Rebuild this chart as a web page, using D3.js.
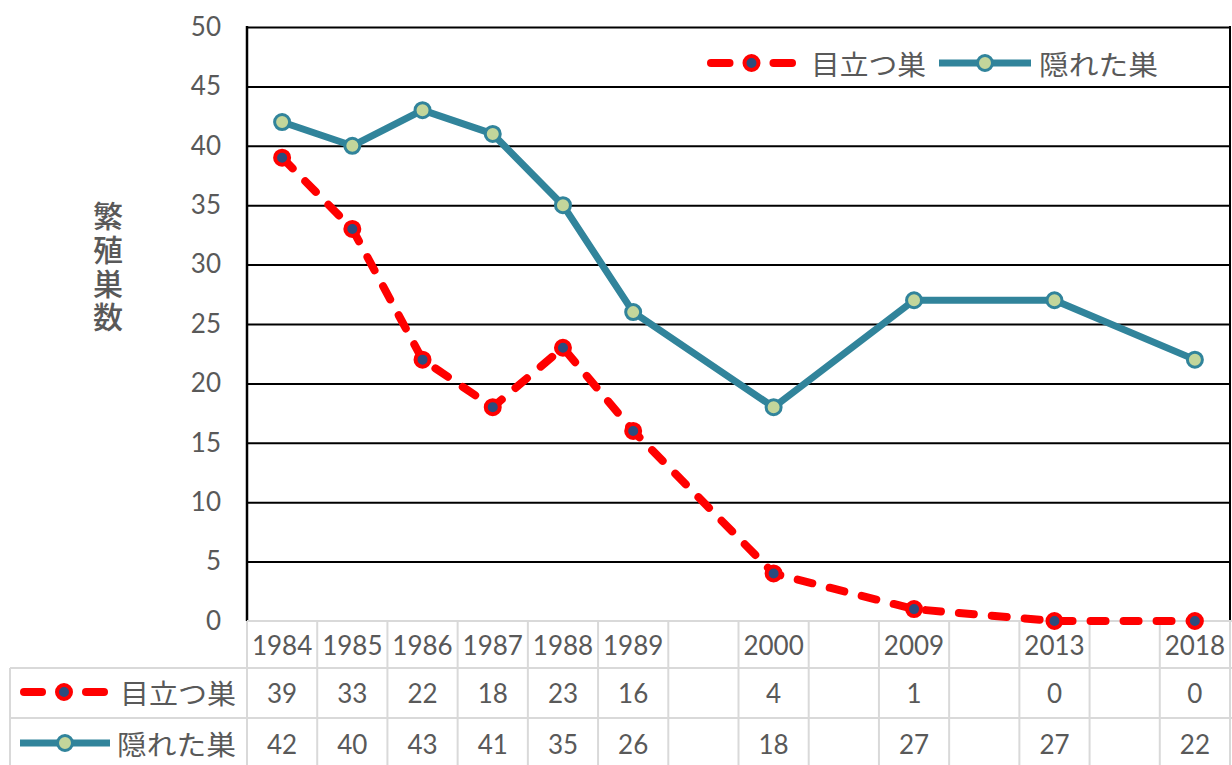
<!DOCTYPE html>
<html>
<head>
<meta charset="utf-8">
<script src="https://cdn.jsdelivr.net/npm/d3@7"></script>
<style>
  body { margin: 0; background: #fff; }
  svg { display: block; }
</style>
</head>
<body>
<svg id="chart" width="1232" height="765"></svg>
<script>
// data
const years = ["1984", "1985", "1986", "1987", "1988", "1989", "", "2000", "", "2009", "", "2013", "", "2018"];
const medatsu = [39, 33, 22, 18, 23, 16, null, 4, null, 1, null, 0, null, 0];
const kakureta = [42, 40, 43, 41, 35, 26, null, 18, null, 27, null, 27, null, 22];
const seriesNames = ["目立つ巣", "隠れた巣"];
const yTicks = [0, 5, 10, 15, 20, 25, 30, 35, 40, 45, 50];
const yTitle = "繁殖巣数";

const gray = "#595959";
const red = "#FF0000";
const teal = "#31849B";
const numFont = "Lato, 'Open Sans', sans-serif";
const jpFont = "'Noto Sans CJK JP', sans-serif";

const plotL = 247, plotR = 1230, plotT = 27, plotB = 621;
const svg = d3.select("#chart");

const x = d3.scaleBand().domain(d3.range(years.length)).range([plotL, plotR]).padding(0);
const cx = i => x(i) + x.bandwidth() / 2;
const y = d3.scaleLinear().domain([0, 50]).range([plotB, plotT]);

// gridlines + tick labels
const yAxis = svg.append("g")
  .attr("transform", `translate(${plotL},0)`)
  .call(d3.axisLeft(y).tickValues(yTicks).tickSize(-(plotR - plotL)).tickPadding(26));
yAxis.select(".domain").remove();
yAxis.selectAll(".tick line")
  .attr("stroke", d => d === 0 ? "none" : "#000")
  .attr("stroke-width", 2);
yAxis.selectAll(".tick text")
  .attr("fill", gray)
  .style("font-family", numFont)
  .style("font-size", "26px");

// plot borders
svg.append("line").attr("x1", plotL).attr("x2", plotL).attr("y1", plotT - 1).attr("y2", plotB)
  .attr("stroke", "#000").attr("stroke-width", 2.5);
svg.append("line").attr("x1", plotR).attr("x2", plotR).attr("y1", plotT - 1).attr("y2", plotB)
  .attr("stroke", "#000").attr("stroke-width", 2);

// y title, vertical
svg.append("text")
  .attr("x", 108)
  .attr("y", 201)
  .attr("writing-mode", "vertical-rl")
  .attr("fill", gray)
  .style("font-family", jpFont)
  .style("font-size", "30px")
  .style("font-weight", 500)
  .style("letter-spacing", "3.7px")
  .text(yTitle);

// data table
const row1 = 668, row2 = 718, tableBottom = 765;
const tg = svg.append("g").attr("stroke", "#D9D9D9").attr("stroke-width", 2);
tg.append("line").attr("x1", plotL).attr("x2", 1232).attr("y1", plotB).attr("y2", plotB);
tg.append("line").attr("x1", 10).attr("x2", 1232).attr("y1", row1).attr("y2", row1);
tg.append("line").attr("x1", 10).attr("x2", 1232).attr("y1", row2).attr("y2", row2);
tg.append("line").attr("x1", 10).attr("x2", 10).attr("y1", row1).attr("y2", tableBottom);
tg.selectAll(".col")
  .data(d3.range(years.length + 1))
  .join("line")
  .attr("x1", i => i < years.length ? x(i) : plotR)
  .attr("x2", i => i < years.length ? x(i) : plotR)
  .attr("y1", plotB).attr("y2", tableBottom);

const cellText = (sel, yy) => sel
  .attr("y", yy)
  .attr("text-anchor", "middle")
  .attr("dominant-baseline", "central")
  .attr("fill", gray)
  .style("font-family", numFont)
  .style("font-size", "26px");

svg.append("g").selectAll("text").data(years).join("text")
  .attr("x", (d, i) => cx(i)).call(cellText, 645).text(d => d);
svg.append("g").selectAll("text").data(medatsu).join("text")
  .attr("x", (d, i) => cx(i)).call(cellText, 693).text(d => d === null ? "" : d);
svg.append("g").selectAll("text").data(kakureta).join("text")
  .attr("x", (d, i) => cx(i)).call(cellText, 744).text(d => d === null ? "" : d);

// symbols
function redSymbol(g, x0, x1, yy) {
  const mid = (x0 + x1) / 2;
  g.append("line").attr("x1", x0 + 4).attr("x2", mid - 22).attr("y1", yy).attr("y2", yy)
    .attr("stroke", red).attr("stroke-width", 8).attr("stroke-linecap", "round");
  g.append("line").attr("x1", mid + 22).attr("x2", x1 - 4).attr("y1", yy).attr("y2", yy)
    .attr("stroke", red).attr("stroke-width", 8).attr("stroke-linecap", "round");
  g.append("circle").attr("cx", mid).attr("cy", yy).attr("r", 7)
    .attr("fill", "#2B4C7E").attr("stroke", red).attr("stroke-width", 4);
}
function tealSymbol(g, x0, x1, yy) {
  const mid = (x0 + x1) / 2;
  g.append("line").attr("x1", x0).attr("x2", x1).attr("y1", yy).attr("y2", yy)
    .attr("stroke", teal).attr("stroke-width", 7);
  g.append("circle").attr("cx", mid).attr("cy", yy).attr("r", 7.5)
    .attr("fill", "#C3D69B").attr("stroke", teal).attr("stroke-width", 3);
}

// table row labels
const lab = svg.append("g");
redSymbol(lab, 20, 108, 692);
tealSymbol(lab, 20, 110, 743);
lab.selectAll("text").data(seriesNames).join("text")
  .attr("x", (d, i) => i === 0 ? 120 : 117)
  .attr("y", (d, i) => i === 0 ? 692 : 743)
  .attr("textLength", (d, i) => i === 0 ? 116 : 119)
  .attr("lengthAdjust", "spacingAndGlyphs")
  .attr("dominant-baseline", "central")
  .attr("fill", gray)
  .style("font-family", jpFont)
  .style("font-size", "27px")
  .text(d => d);

// legend
const leg = svg.append("g");
redSymbol(leg, 707, 796, 63);
tealSymbol(leg, 939, 1031, 63);
leg.selectAll("text").data(seriesNames).join("text")
  .attr("x", (d, i) => i === 0 ? 811 : 1039)
  .attr("y", 63)
  .attr("textLength", (d, i) => i === 0 ? 115 : 119)
  .attr("lengthAdjust", "spacingAndGlyphs")
  .attr("dominant-baseline", "central")
  .attr("fill", gray)
  .style("font-family", jpFont)
  .style("font-size", "27px")
  .text(d => d);

// lines
const pts = arr => arr.map((v, i) => ({i, v})).filter(d => d.v !== null);
const line = d3.line().x(d => cx(d.i)).y(d => y(d.v));

svg.append("path").datum(pts(kakureta))
  .attr("d", line).attr("fill", "none")
  .attr("stroke", teal).attr("stroke-width", 7).attr("stroke-linejoin", "round");
svg.append("g").selectAll("circle").data(pts(kakureta)).join("circle")
  .attr("cx", d => cx(d.i)).attr("cy", d => y(d.v)).attr("r", 7.5)
  .attr("fill", "#C3D69B").attr("stroke", teal).attr("stroke-width", 3);

svg.append("path").datum(pts(medatsu))
  .attr("d", line).attr("fill", "none")
  .attr("stroke", red).attr("stroke-width", 8)
  .attr("stroke-dasharray", "15,18").attr("stroke-linecap", "round");
svg.append("g").selectAll("circle").data(pts(medatsu)).join("circle")
  .attr("cx", d => cx(d.i)).attr("cy", d => y(d.v)).attr("r", 7)
  .attr("fill", "#2B4C7E").attr("stroke", red).attr("stroke-width", 4);
</script>
</body>
</html>
